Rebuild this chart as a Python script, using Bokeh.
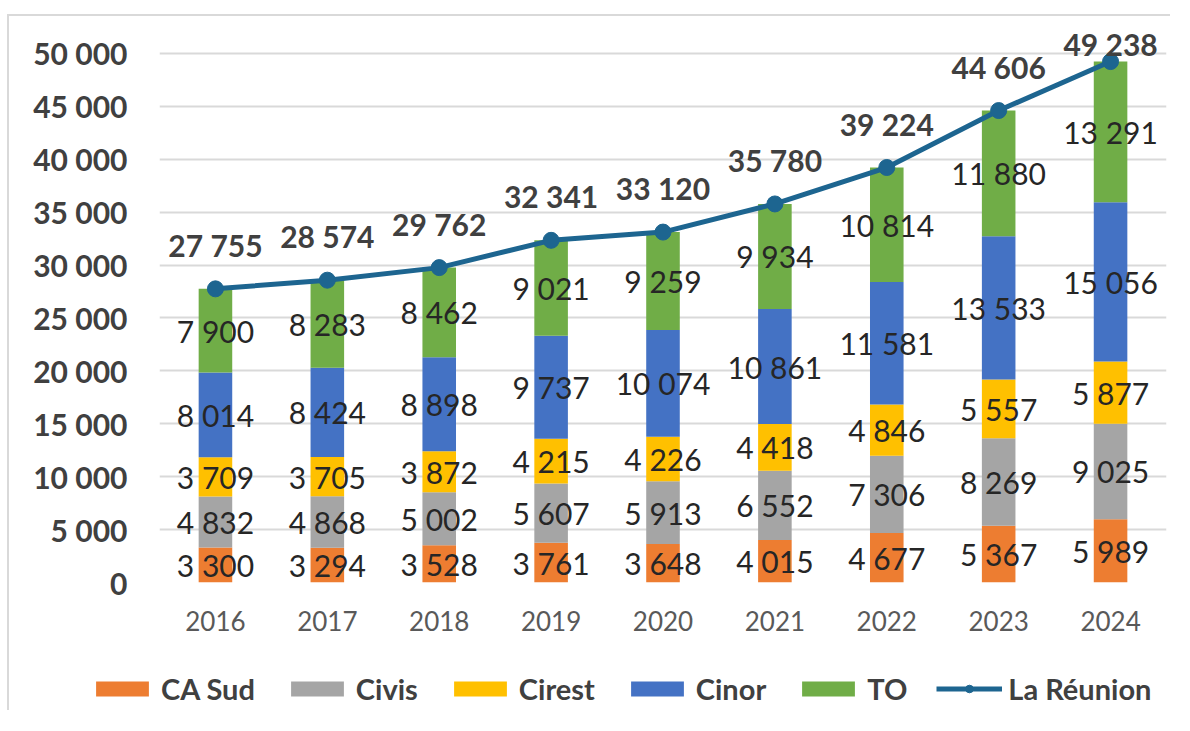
from bokeh.plotting import figure
from bokeh.layouts import column, row
from bokeh.models import ColumnDataSource, FixedTicker, Legend, LegendItem, Range1d, FactorRange, Spacer
from bokeh.embed import file_html
from bokeh.resources import INLINE
from bokeh.core.properties import value

years = ["2016", "2017", "2018", "2019", "2020", "2021", "2022", "2023", "2024"]
ca_sud = [3300, 3294, 3528, 3761, 3648, 4015, 4677, 5367, 5989]
civis = [4832, 4868, 5002, 5607, 5913, 6552, 7306, 8269, 9025]
cirest = [3709, 3705, 3872, 4215, 4226, 4418, 4846, 5557, 5877]
cinor = [8014, 8424, 8898, 9737, 10074, 10861, 11581, 13533, 15056]
to = [7900, 8283, 8462, 9021, 9259, 9934, 10814, 11880, 13291]
reunion = [27755, 28574, 29762, 32341, 33120, 35780, 39224, 44606, 49238]
y_ticks = [0, 5000, 10000, 15000, 20000, 25000, 30000, 35000, 40000, 45000, 50000]

series_names = ["CA Sud", "Civis", "Cirest", "Cinor", "TO"]
series_vals = [ca_sud, civis, cirest, cinor, to]
colors = ["#ED7D31", "#A5A5A5", "#FFC000", "#4472C4", "#70AD47"]
line_color = "#1D6590"
FONT = "Lato"
BORDER = "2px solid #d9d9d9"


def fmt(v):
    return f"{v:,}".replace(",", " ")


data = {"year": years, "reunion": reunion, "reunion_lbl": [fmt(v) for v in reunion]}
for n, v in zip(series_names, series_vals):
    data[n] = v
# total label offsets (screen px, upward); the last one is held inside the chart top
data["off"] = [-44] * (len(years) - 1) + [-18]
src = ColumnDataSource(data)

p = figure(
    width=1163, height=636,
    x_range=FactorRange(*years), y_range=Range1d(0, 52930),
    output_backend="svg", toolbar_location=None,
    min_border_left=150, min_border_right=6, min_border_top=6, min_border_bottom=70,
    styles={"border-left": BORDER, "border-top": BORDER},
)
p.frame_align = False

bar_rs = p.vbar_stack(series_names, x="year", width=0.3, color=colors, line_color=None, source=src)

# segment labels
bottoms = [0] * len(years)
for n, vals in zip(series_names, series_vals):
    mids = [b + v / 2 for b, v in zip(bottoms, vals)]
    s = ColumnDataSource({"year": years, "y": mids, "t": [fmt(v) for v in vals]})
    p.text(x="year", y="y", text="t", source=s, text_align="center", text_baseline="middle",
           text_font=value(FONT), text_font_size="30px", text_color="#262626")
    bottoms = [b + v for b, v in zip(bottoms, vals)]

line_r = p.line(x="year", y="reunion", source=src, line_width=5, line_color=line_color)
pt_r = p.scatter(x="year", y="reunion", source=src, size=16, fill_color=line_color, line_color=line_color)

p.text(x="year", y="reunion", text="reunion_lbl", source=src, y_offset="off",
       text_align="center", text_baseline="middle", text_font=value(FONT),
       text_font_size="30px", text_font_style="bold", text_color="#404040")

# axes
p.yaxis.ticker = FixedTicker(ticks=y_ticks)
p.yaxis.major_label_overrides = {t: fmt(t) for t in y_ticks}
p.yaxis.major_label_text_font = FONT
p.yaxis.major_label_text_font_size = "30px"
p.yaxis.major_label_text_font_style = "bold"
p.yaxis.major_label_text_color = "#404040"
p.yaxis.major_label_standoff = 26
p.xaxis.major_label_text_font = FONT
p.xaxis.major_label_text_font_size = "26px"
p.xaxis.major_label_text_color = "#595959"
p.xaxis.major_label_standoff = 22
for ax in (p.xaxis, p.yaxis):
    ax.axis_line_color = None
    ax.major_tick_line_color = None
    ax.minor_tick_line_color = None
p.xgrid.grid_line_color = None
p.ygrid.grid_line_color = "#d9d9d9"
p.ygrid.grid_line_width = 2
p.outline_line_color = None

# legend strip: its own small figure, so the legend is not clipped by the chart frame.
# Its sample glyphs use the same data but lie outside this strip's ranges (not visible).
lg = figure(width=1163, height=60, x_range=Range1d(0, 1), y_range=Range1d(0, 1),
            output_backend="svg", toolbar_location=None, x_axis_type=None, y_axis_type=None,
            min_border=0, styles={"border-left": BORDER})
lg.frame_align = False
lg.grid.grid_line_color = None
lg.outline_line_color = None
leg_rs = [lg.vbar(x="reunion", top=n, width=0.3, color=c, line_color=None, source=src)
          for n, c in zip(series_names, colors)]
leg_line = lg.line(x="reunion", y="reunion", source=src, line_width=5, line_color=line_color)
leg_pt = lg.scatter(x="reunion", y="reunion", source=src, size=16, fill_color=line_color, line_color=line_color)

items = [LegendItem(label=n, renderers=[r]) for n, r in zip(series_names, leg_rs)]
items.append(LegendItem(label="La Réunion", renderers=[leg_line, leg_pt]))
legend = Legend(items=items, orientation="horizontal", location=(80, 4),
                glyph_width=66, glyph_height=19, spacing=29, label_standoff=6,
                padding=0, margin=0, border_line_color=None, background_fill_alpha=0,
                label_text_font=FONT, label_text_font_size="29px", label_text_font_style="bold",
                label_text_color="#404040")
lg.add_layout(legend, "center")

layout = row(Spacer(width=7), column(Spacer(height=14), p, lg, spacing=0), spacing=0)
open("out.html", "w").write(file_html(layout, INLINE))
